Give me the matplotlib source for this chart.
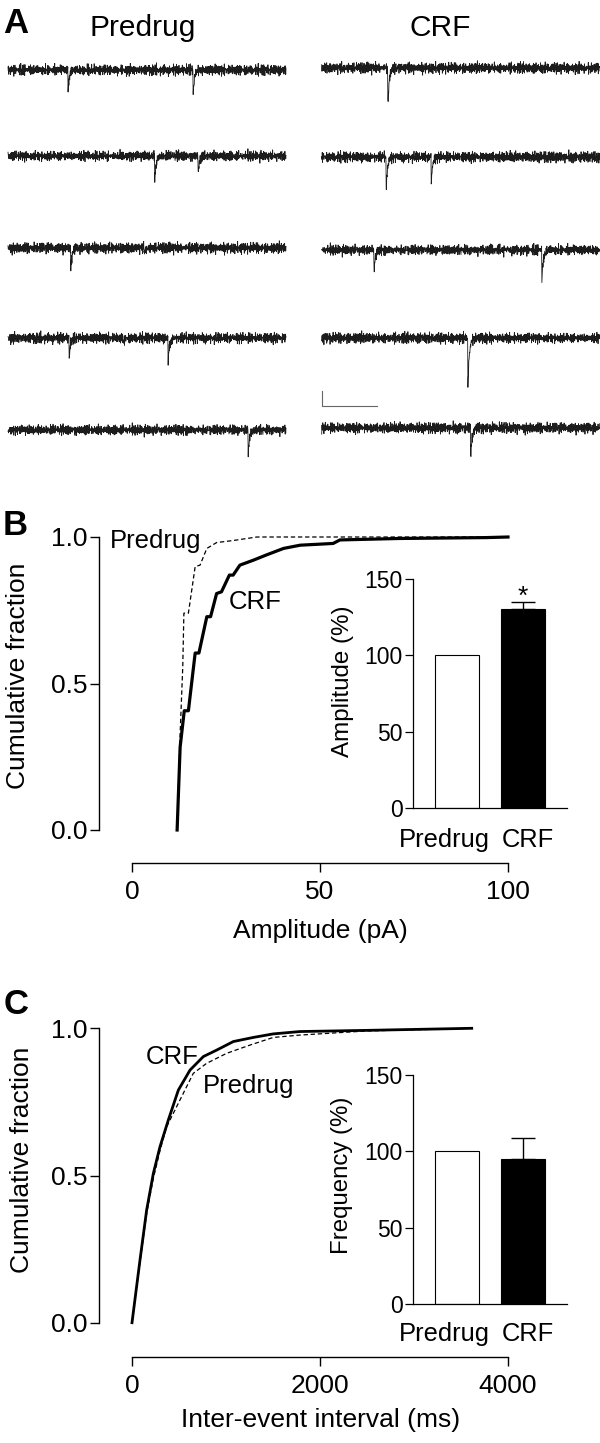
import numpy as np
import matplotlib
matplotlib.use("Agg")
import matplotlib.pyplot as plt
from matplotlib.transforms import ScaledTranslation

plt.rcParams['font.family'] = ['Liberation Sans', 'DejaVu Sans']

# ---------------- data ----------------
sweep_ms = 500
# miniature events per sweep: (time ms, amplitude pA)
predrug_events = [
    [(108, 13.0), (333, 16.0)],
    [(264, 16.0), (342, 11.5)],
    [(113, 13.5), (245, 3.0)],
    [(110, 13.0), (207, 3.5), (288, 15.5)],
    [(432, 15.5)],
]
crf_events = [
    [(119, 24.5)],
    [(116, 22.0), (197, 17.5)],
    [(94, 14.0), (396, 21.0)],
    [(263, 33.0)],
    [(268, 20.0)],
]
# baseline noise samples (pA units before scaling)
noise_a = [2, -1, 3, -4, 1, 0, -3, 4, -2, 1, -5, 3, 0, 2, -3, 1, 4, -2, -1, 3,
           -4, 2, 0, -1, 5, -3, 1, -2, 3, -1, 0, 4, -4, 2, -3, 1, 3, -2, 0, -5,
           2, 1, -3, 4, -1, 0, 2, -4, 3, 1, -2, -1, 4, -3, 0, 2, -2, 5, -4, 1, -1]
noise_b = [-3, 1, 4, -2, 0, 2, -4, 3, -1, 1, -2, 5, -3, 0, 2, -1, -4, 3, 1, -2,
           4, -5, 2, 0, -1, 3, -3, 1, 2, -4, 0, 3, -2, 1, -1, 4, -3, 2, -5, 1,
           3, 0, -2, 2, -4, 1, -1, 3, -3, 4, 0, -2, 1, 2, -5, 3, -1, 0, 4, -2,
           -3, 2, 1, -1, 3, -4, 0, 2, -2, 5, -3, 1, -1, 0, 3, -4, 2, -2, 1, 4, -3, 0, -1]
scalebar_ms = 100
scalebar_pA = 10

# cumulative amplitude distributions (pA)
crf_amp_x = [12.0, 12.8, 13.9, 15.0, 16.8, 17.8, 19.9, 20.9, 22.5, 23.8, 25.9, 26.9,
             28.7, 32.3, 35.8, 40.3, 44.7, 53.5, 55.3, 71.3, 94.3, 100.0]
crf_amp_y = [0.0, 0.283, 0.407, 0.407, 0.604, 0.604, 0.728, 0.728, 0.807, 0.813, 0.870, 0.870,
             0.904, 0.921, 0.939, 0.961, 0.972, 0.978, 0.990, 0.995, 0.998, 1.0]
pre_amp_x = [12.0, 12.8, 13.5, 13.8, 15.0, 16.8, 18.1, 19.9, 22.5, 26.9, 33.2, 100.0]
pre_amp_y = [0.0, 0.33, 0.557, 0.74, 0.74, 0.899, 0.904, 0.961, 0.981, 0.988, 1.0, 1.0]

# cumulative inter-event interval distributions (ms)
crf_iei_x = [0, 85, 156, 227, 298, 386, 493, 617, 759, 901, 1078, 1291, 1503, 1787, 2497, 3614]
crf_iei_y = [0, 0.213, 0.383, 0.507, 0.598, 0.688, 0.790, 0.858, 0.904, 0.926, 0.955, 0.969,
             0.981, 0.989, 0.993, 1.0]
pre_iei_x = [0, 85, 156, 227, 298, 369, 511, 652, 794, 1007, 1255, 1503, 1787, 2497, 3614]
pre_iei_y = [0, 0.205, 0.372, 0.49, 0.585, 0.666, 0.757, 0.847, 0.881, 0.915, 0.943, 0.969,
             0.977, 0.991, 1.0]

groups = ['Predrug', 'CRF']
amp_pct = [100, 130.3]
amp_sem = [0, 4.8]
freq_pct = [100, 95.0]
freq_sem = [0, 14.0]

# ---------------- figure ----------------
W, H = 600, 1443
fig = plt.figure(figsize=(W / 100, H / 100), dpi=100)
PT = 72 / 100  # points per pixel


def px_axes(x0, y0, x1, y1):
    return fig.add_axes([x0 / W, 1 - y1 / H, (x1 - x0) / W, (y1 - y0) / H])


def px_text(x, y, s, **kw):
    return fig.text(x / W, 1 - y / H, s, **kw)


# ---------- Panel A: traces ----------
px_text(3, 33, 'A', fontsize=25, fontweight='bold', ha='left', va='baseline')
px_text(143, 36, 'Predrug', fontsize=21.5, ha='center', va='baseline')
px_text(440, 36, 'CRF', fontsize=21.5, ha='center', va='baseline')

left_rows = [70, 156, 248, 338, 430]
right_rows = [68, 157, 250, 338, 428]
na = np.array(noise_a, dtype=float)
nb = np.array(noise_b, dtype=float)
t = np.arange(0, sweep_ms + 0.01, 0.5)
idx = np.arange(len(t))
trace_axes = {}
for col, (x0, rows, evs) in enumerate([(8, left_rows, predrug_events),
                                        (321.7, right_rows, crf_events)]):
    for r, base in enumerate(rows):
        ax = px_axes(x0, base - 20, x0 + 278, base + 60)
        ax.set_xlim(0, sweep_ms)
        ax.set_ylim(-40, 13.333)
        ax.axis('off')
        off = 37 * (col * 5 + r) + 11
        y = 0.6 * (na[(idx + off) % len(na)] + 0.6 * nb[(idx + 3 * off) % len(nb)])
        for t0, a in evs[r]:
            m = t >= t0
            y[m] -= a * np.exp(-(t[m] - t0) / 2.5)
        ax.plot(t, y, lw=0.6, color='#1c1c1c', clip_on=False)
        trace_axes[(col, r)] = ax

# scale bar (right column, under 4th sweep)
sb = trace_axes[(1, 3)]
sb.plot([0, 0, scalebar_ms], [-35.3, -35.3 - scalebar_pA, -35.3 - scalebar_pA],
        color='#666666', lw=0.8, clip_on=False)


def style_cdf(ax, xlim, xticks, xticklabels, off_px):
    ax.set_xlim(*xlim)
    ax.set_ylim(0, 1)
    for s in ['top', 'right']:
        ax.spines[s].set_visible(False)
    ax.spines['left'].set_position(('outward', off_px[0] * PT))
    ax.spines['bottom'].set_position(('outward', off_px[1] * PT))
    ax.spines['left'].set_bounds(0, 1)
    ax.spines['bottom'].set_bounds(xlim[0], xlim[1])
    for s in ['left', 'bottom']:
        ax.spines[s].set_linewidth(1.0)
    ax.set_yticks([0, 0.5, 1.0], ['0.0', '0.5', '1.0'])
    ax.set_xticks(xticks, xticklabels)
    ax.tick_params(axis='y', direction='out', length=6.5, width=1.0, labelsize=19, pad=2)
    ax.tick_params(axis='x', direction='out', length=6.5, width=1.0, labelsize=19, pad=6)


def style_bar(ax, vals, sems, ylabel, lab_pad):
    x = np.arange(len(groups))
    ax.bar(x, vals, width=0.667, color=['white', 'black'], edgecolor='black', linewidth=0.8)
    ax.errorbar(x[1:], vals[1:], yerr=[[0], sems[1:]], fmt='none', ecolor='black',
                elinewidth=1.0, capsize=12 * PT, capthick=1.0)
    ax.set_xlim(-0.667, 1.667)
    ax.set_ylim(0, 150)
    for s in ['top', 'right']:
        ax.spines[s].set_visible(False)
    for s in ['left', 'bottom']:
        ax.spines[s].set_linewidth(0.9)
    ax.set_yticks([0, 50, 100, 150])
    ax.set_xticks(x, groups)
    ax.tick_params(axis='y', direction='out', length=5.8, width=0.9, labelsize=16.5, pad=1.5)
    ax.tick_params(axis='x', length=0, labelsize=18.4, pad=lab_pad)
    labs = ax.get_xticklabels()
    labs[0].set_transform(labs[0].get_transform() + ScaledTranslation(-13 / 100, 0, fig.dpi_scale_trans))
    labs[1].set_transform(labs[1].get_transform() + ScaledTranslation(5 / 100, 0, fig.dpi_scale_trans))


# ---------- Panel B ----------
px_text(3, 535, 'B', fontsize=25, fontweight='bold', ha='left', va='baseline')
axB = px_axes(132, 537, 508, 830)
axB.plot(pre_amp_x, pre_amp_y, color='black', lw=0.9, ls=(0, (3.5, 2.2)), clip_on=False)
axB.plot(crf_amp_x, crf_amp_y, color='black', lw=2.3, clip_on=False)
style_cdf(axB, (0, 100), [0, 50, 100], ['0', '50', '100'], (33, 33))
axB.text(-5.85, 0.961, 'Predrug', fontsize=18.5, ha='left', va='baseline')
axB.text(25.7, 0.753, 'CRF', fontsize=18.5, ha='left', va='baseline')
px_text(18, 675.5, 'Cumulative fraction', fontsize=19, rotation=90, ha='center', va='center')
px_text(320, 931, 'Amplitude (pA)', fontsize=19, ha='center', va='center')

axBi = px_axes(413, 579, 567, 808.3)
style_bar(axBi, amp_pct, amp_sem, 'Amplitude (%)', 14.4)
axBi.text(1, 133.8, '*', fontsize=19, ha='center', va='baseline')
px_text(342.5, 681, 'Amplitude (%)', fontsize=17.4, rotation=90, ha='center', va='center')

# ---------- Panel C ----------
px_text(4, 1014, 'C', fontsize=25, fontweight='bold', ha='left', va='baseline')
axC = px_axes(132, 1028.3, 508, 1322.7)
axC.plot(pre_iei_x, pre_iei_y, color='black', lw=0.9, ls=(0, (3.5, 2.2)), clip_on=False)
axC.plot(crf_iei_x, crf_iei_y, color='black', lw=2.0, clip_on=False)
style_cdf(axC, (0, 4000), [0, 2000, 4000], ['0', '2000', '4000'], (33, 34))
axC.text(149, 0.878, 'CRF', fontsize=18.5, ha='left', va='baseline')
axC.text(755, 0.779, 'Predrug', fontsize=18.5, ha='left', va='baseline')
px_text(22, 1160, 'Cumulative fraction', fontsize=19, rotation=90, ha='center', va='center')
px_text(321, 1419.5, 'Inter-event interval (ms)', fontsize=19, ha='center', va='center')

axCi = px_axes(413, 1075, 567, 1304)
style_bar(axCi, freq_pct, freq_sem, 'Frequency (%)', 13.2)
px_text(342, 1175, 'Frequency (%)', fontsize=17.3, rotation=90, ha='center', va='center')

fig.savefig('out.png', dpi=100)
